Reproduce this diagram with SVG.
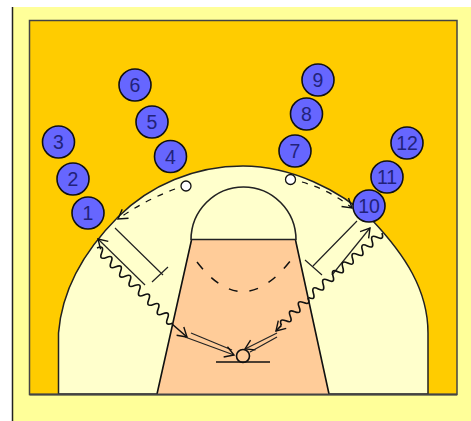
<svg xmlns="http://www.w3.org/2000/svg" width="471" height="421" viewBox="0 0 471 421">
<style>
.c{stroke:#222;stroke-width:1.6;fill:none}
.n circle{fill:#6666ff;stroke:#111;stroke-width:1.6}
.n text{font:19.500px "Liberation Sans",Arial,sans-serif;fill:#22227a;text-anchor:middle}
.l{stroke:#222;stroke-width:1.2;fill:none}
.h{marker-end:url(#a)}
.w{stroke:#111;stroke-width:1.6;fill:none}
</style>
<defs>
<marker id="a" markerUnits="userSpaceOnUse" markerWidth="16" markerHeight="16" refX="12" refY="8" orient="auto"><path d="M3 2.500L12 8L3 13.500" fill="none" stroke="#111" stroke-width="1.400"/></marker>
</defs>
<g id="court">
<rect x="12" y="7" width="459" height="414" fill="#ffff99"/>
<path d="M12.500 7V421" stroke="#222" stroke-width="1.500"/>
<rect x="29.500" y="20.500" width="427.500" height="374" fill="#ffcc00" stroke="#444" stroke-width="1.500"/>
<path d="M58.500 394V333C62 290 85 250 118 217C150 185 195 166 243 166C291 166 340 190 372 220C405 255 428 290 428 333V394Z" fill="#ffffcc" stroke="#222" stroke-width="1.500"/>
<path d="M191 240H296L329 394H157Z" fill="#ffcc99"/>
<path d="M157 394L191.500 240M329 394L295.500 240" stroke="#111" stroke-width="1.600" fill="none"/>
<path d="M191 239.500H296" stroke="#222" stroke-width="1.500"/>
<path d="M191 240A52.500 53 0 0 1 296 240" class="c"/>
<path d="M197 262Q243 322 291 260" stroke="#111" stroke-width="1.500" fill="none" stroke-dasharray="9 12"/>
<path d="M29.500 394.500H457" stroke="#444" stroke-width="1.800"/>
<path d="M216 362H270" stroke="#111" stroke-width="1.600"/>
<circle cx="243" cy="356" r="6.500" fill="none" stroke="#111" stroke-width="1.600"/>
<circle cx="186" cy="186" r="5" fill="#fff" stroke="#111" stroke-width="1.300"/>
<circle cx="290.500" cy="179.500" r="5" fill="#fff" stroke="#111" stroke-width="1.300"/>
</g>
<g id="connectors">
<path class="h" d="M175 189Q145 200 118 219" stroke="#111" stroke-width="1.300" fill="none" stroke-dasharray="6 7"/>
<path class="h" d="M302 182Q330 190 352 208" stroke="#111" stroke-width="1.300" fill="none" stroke-dasharray="6 7"/>
<path class="l" d="M115 228L163 275M152 282L168 267"/>
<path class="l" d="M357 221L313 266M305 260L322 275"/>
<path class="l h" d="M145 285L98 239"/>
<path class="l h" d="M332 275L370 228"/>
<path class="w" d="M97 248q7.850 -3.150 4.700 4.700t4.700 4.700t4.700 4.700t4.700 4.700t4.700 4.700t4.700 4.700t4.700 4.700t4.700 4.700t4.700 4.700t4.700 4.700t4.700 4.700t4.700 4.700t4.700 4.700t4.700 4.700t4.700 4.700t4.700 4.700"/>
<path class="w h" d="M172 324L187 337"/>
<path class="w" d="M382 233q2.500 7.750 -4.900 4.300t-4.900 4.300t-4.900 4.300t-4.900 4.300t-4.900 4.300t-4.900 4.300t-4.900 4.300t-4.900 4.300t-4.900 4.300t-4.900 4.300t-4.900 4.300t-4.900 4.300t-4.900 4.300t-4.900 4.300t-4.900 4.300"/>
<path class="w" d="M308 298q3.050 7.550 -4.430 4.570t-4.430 4.570t-4.430 4.570t-4.430 4.570t-4.430 4.570t-4.430 4.570"/>
<path class="w h" d="M281.400 325.400L276 331"/>
<path class="l" d="M191 333L232 350"/>
<path class="l h" d="M185 337L234 355"/>
<path class="l h" d="M277 333L245 349"/>
<path class="l" d="M277 337L250 352"/>
</g>
<g id="n1" class="n"><circle cx="88" cy="213" r="16"/><text x="88" y="220">1</text></g>
<g id="n2" class="n"><circle cx="73" cy="179" r="16"/><text x="73" y="186">2</text></g>
<g id="n3" class="n"><circle cx="58.500" cy="142" r="16"/><text x="58.500" y="149">3</text></g>
<g id="n4" class="n"><circle cx="170.500" cy="156.500" r="16"/><text x="170.500" y="163.500">4</text></g>
<g id="n5" class="n"><circle cx="152" cy="122" r="16"/><text x="152" y="129">5</text></g>
<g id="n6" class="n"><circle cx="135" cy="85" r="16"/><text x="135" y="92">6</text></g>
<g id="n7" class="n"><circle cx="295" cy="151" r="16"/><text x="295" y="158">7</text></g>
<g id="n8" class="n"><circle cx="306.500" cy="114" r="16"/><text x="306.500" y="121">8</text></g>
<g id="n9" class="n"><circle cx="318" cy="80" r="16"/><text x="318" y="87">9</text></g>
<g id="n10" class="n"><circle cx="369" cy="206" r="16"/><text x="369" y="213">10</text></g>
<g id="n11" class="n"><circle cx="387" cy="177" r="16"/><text x="387" y="184">11</text></g>
<g id="n12" class="n"><circle cx="407" cy="143" r="16"/><text x="407" y="150">12</text></g>
</svg>
